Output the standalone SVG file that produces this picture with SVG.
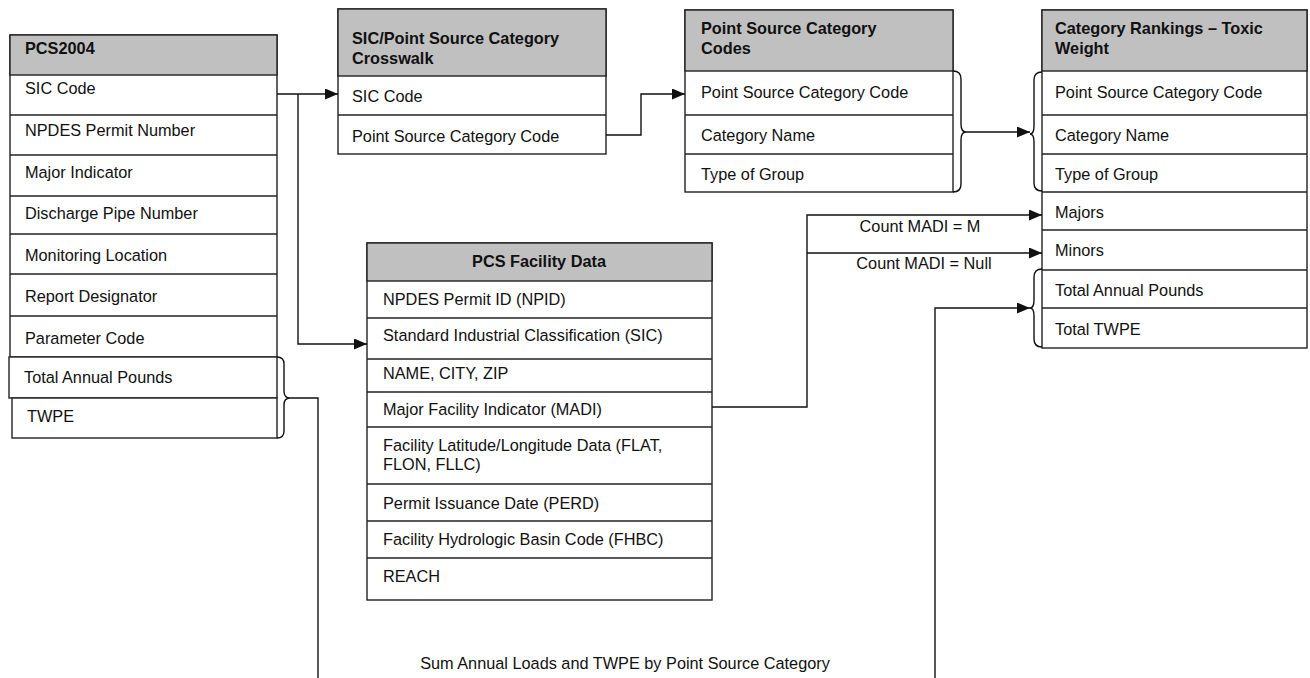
<svg xmlns="http://www.w3.org/2000/svg" width="1310" height="678" viewBox="0 0 1310 678">
<style>
.box{fill:#fff;stroke:#222;stroke-width:1.4}
.hdr{fill:#c0c0c0;stroke:#222;stroke-width:1.4}
.sep{stroke:#222;stroke-width:1.4}
.t{font-family:"Liberation Sans",Arial,sans-serif;font-size:16.3px;fill:#111}
.h{font-family:"Liberation Sans",Arial,sans-serif;font-size:16.3px;font-weight:bold;fill:#111}
.ln{fill:none;stroke:#111;stroke-width:1.4}
</style>
<defs>
<marker id="ah" viewBox="0 0 13 11" refX="13" refY="5.5" markerWidth="13" markerHeight="11" markerUnits="userSpaceOnUse" orient="auto">
<path d="M0,0 L13,5.5 L0,11 z" fill="#111"/>
</marker>
</defs>
<rect width="1310" height="678" fill="#fff"/>

<g id="pcs2004">
<rect class="box" x="10" y="35" width="267" height="322"/>
<rect class="hdr" x="10" y="35" width="267" height="40"/>
<line class="sep" x1="10" y1="115" x2="277" y2="115"/>
<line class="sep" x1="10" y1="155" x2="277" y2="155"/>
<line class="sep" x1="10" y1="196" x2="277" y2="196"/>
<line class="sep" x1="10" y1="234" x2="277" y2="234"/>
<line class="sep" x1="10" y1="274" x2="277" y2="274"/>
<line class="sep" x1="10" y1="316" x2="277" y2="316"/>
<rect class="box" x="9" y="357" width="268" height="41"/>
<rect class="box" x="12" y="398" width="265" height="40"/>
<text class="h" x="25" y="54">PCS2004</text>
<text class="t" x="25" y="94">SIC Code</text>
<text class="t" x="25" y="136">NPDES Permit Number</text>
<text class="t" x="25" y="178">Major Indicator</text>
<text class="t" x="25" y="219">Discharge Pipe Number</text>
<text class="t" x="25" y="261">Monitoring Location</text>
<text class="t" x="25" y="302">Report Designator</text>
<text class="t" x="25" y="344">Parameter Code</text>
<text class="t" x="24" y="383">Total Annual Pounds</text>
<text class="t" x="27" y="422">TWPE</text>
<path class="ln" d="M277,357 Q284,357 284,364 L284,391 Q284,398 290,398 Q284,398 284,405 L284,431 Q284,438 277,438"/>
</g>

<g id="crosswalk">
<rect class="box" x="338" y="9" width="268" height="145"/>
<rect class="hdr" x="338" y="9" width="268" height="67"/>
<line class="sep" x1="338" y1="115" x2="606" y2="115"/>
<text class="h" x="352" y="44">SIC/Point Source Category</text>
<text class="h" x="352" y="64">Crosswalk</text>
<text class="t" x="352" y="102">SIC Code</text>
<text class="t" x="352" y="142">Point Source Category Code</text>
</g>

<g id="pscc">
<rect class="box" x="685" y="10" width="268" height="182"/>
<rect class="hdr" x="685" y="10" width="268" height="61"/>
<line class="sep" x1="685" y1="115" x2="953" y2="115"/>
<line class="sep" x1="685" y1="154" x2="953" y2="154"/>
<text class="h" x="701" y="34">Point Source Category</text>
<text class="h" x="701" y="54">Codes</text>
<text class="t" x="701" y="98">Point Source Category Code</text>
<text class="t" x="701" y="141">Category Name</text>
<text class="t" x="701" y="180">Type of Group</text>
<path class="ln" d="M953,71 Q961,71 961,79 L961,124 Q961,132 966,132 Q961,132 961,140 L961,184 Q961,192 953,192"/>
</g>

<g id="rankings">
<rect class="box" x="1042" y="10" width="265" height="338"/>
<rect class="hdr" x="1042" y="10" width="265" height="61"/>
<line class="sep" x1="1042" y1="115" x2="1307" y2="115"/>
<line class="sep" x1="1042" y1="154" x2="1307" y2="154"/>
<line class="sep" x1="1042" y1="192" x2="1307" y2="192"/>
<line class="sep" x1="1042" y1="230" x2="1307" y2="230"/>
<line class="sep" x1="1042" y1="270" x2="1307" y2="270"/>
<line class="sep" x1="1042" y1="308" x2="1307" y2="308"/>
<text class="h" x="1055" y="34">Category Rankings – Toxic</text>
<text class="h" x="1055" y="54">Weight</text>
<text class="t" x="1055" y="98">Point Source Category Code</text>
<text class="t" x="1055" y="141">Category Name</text>
<text class="t" x="1055" y="180">Type of Group</text>
<text class="t" x="1055" y="218">Majors</text>
<text class="t" x="1055" y="256">Minors</text>
<text class="t" x="1055" y="296">Total Annual Pounds</text>
<text class="t" x="1055" y="335">Total TWPE</text>
<path class="ln" d="M1042,72 Q1034,72 1034,80 L1034,126 Q1034,134 1030,134 Q1034,134 1034,142 L1034,183 Q1034,191 1042,191"/>
<path class="ln" d="M1042,269 Q1034,269 1034,277 L1034,300 Q1034,308 1030,308 Q1034,308 1034,316 L1034,339 Q1034,347 1042,347"/>
</g>

<g id="facility">
<rect class="box" x="367" y="243" width="345" height="357"/>
<rect class="hdr" x="367" y="243" width="345" height="38"/>
<line class="sep" x1="367" y1="318" x2="712" y2="318"/>
<line class="sep" x1="367" y1="359" x2="712" y2="359"/>
<line class="sep" x1="367" y1="392" x2="712" y2="392"/>
<line class="sep" x1="367" y1="427" x2="712" y2="427"/>
<line class="sep" x1="367" y1="484" x2="712" y2="484"/>
<line class="sep" x1="367" y1="521" x2="712" y2="521"/>
<line class="sep" x1="367" y1="558" x2="712" y2="558"/>
<text class="h" x="539" y="267" text-anchor="middle">PCS Facility Data</text>
<text class="t" x="383" y="305">NPDES Permit ID (NPID)</text>
<text class="t" x="383" y="341">Standard Industrial Classification (SIC)</text>
<text class="t" x="383" y="379">NAME, CITY, ZIP</text>
<text class="t" x="383" y="415">Major Facility Indicator (MADI)</text>
<text class="t" x="383" y="451">Facility Latitude/Longitude Data (FLAT,</text>
<text class="t" x="383" y="470">FLON, FLLC)</text>
<text class="t" x="383" y="509">Permit Issuance Date (PERD)</text>
<text class="t" x="383" y="545">Facility Hydrologic Basin Code (FHBC)</text>
<text class="t" x="383" y="582">REACH</text>
</g>

<g id="connectors">
<polyline class="ln" points="277,94 338,94" marker-end="url(#ah)"/>
<polyline class="ln" points="298,94 298,344 367,344" marker-end="url(#ah)"/>
<polyline class="ln" points="606,135 641,135 641,94 685,94" marker-end="url(#ah)"/>
<polyline class="ln" points="966,132 1030,132" marker-end="url(#ah)"/>
<polyline class="ln" points="712,407 807,407 807,215 1042,215" marker-end="url(#ah)"/>
<polyline class="ln" points="807,253 1042,253" marker-end="url(#ah)"/>
<polyline class="ln" points="290,398 318,398 318,678"/>
<polyline class="ln" points="935,678 935,308 1030,308" marker-end="url(#ah)"/>
<text class="t" x="920" y="232" text-anchor="middle">Count MADI = M</text>
<text class="t" x="924" y="269" text-anchor="middle">Count MADI = Null</text>
<text class="t" x="625" y="669" text-anchor="middle">Sum Annual Loads and TWPE by Point Source Category</text>
</g>
</svg>
